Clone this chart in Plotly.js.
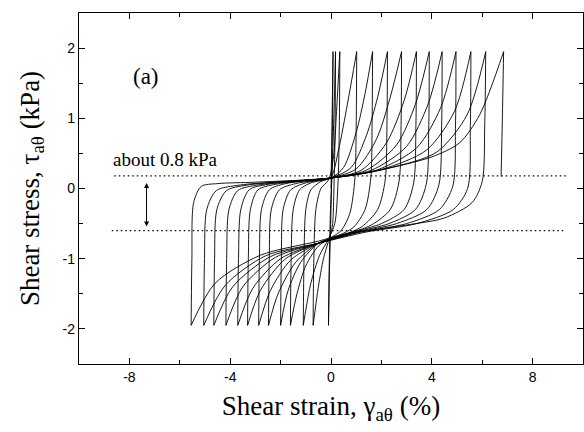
<!DOCTYPE html>
<html>
<head>
<meta charset="utf-8">
<script src="https://cdn.plot.ly/plotly-3.0.1.min.js"></script>
<style>html,body{margin:0;padding:0;background:#fff;}#chart{width:584px;height:432px;}</style>
</head>
<body>
<div id="chart"></div>
<script>
// Loading branches (trough -> peak), shear strain (%) and shear stress (kPa)
const loadingStrain = [
  [0, 0.03, 0.06, 0.08],
  [-0.1, -0.07, -0.02, 0.05, 0.12, 0.18],
  [-0.71, -0.68, -0.6, -0.4, -0.1, 0.1, 0.22, 0.35],
  [-1.1, -1.07, -1.0, -0.8, -0.4, 0.0, 0.3, 0.65, 1.02],
  [-1.61, -1.58, -1.5, -1.25, -0.8, 0.0, 0.5, 1.0, 1.35, 1.65],
  [-2.0, -1.97, -1.9, -1.6, -1.0, 0.0, 0.8, 1.4, 1.85, 2.24],
  [-2.48, -2.45, -2.37, -2.05, -1.4, 0.0, 1.0, 1.8, 2.35, 2.8],
  [-2.87, -2.84, -2.76, -2.45, -1.8, 0.0, 1.2, 2.2, 2.9, 3.39],
  [-3.31, -3.28, -3.2, -2.9, -2.2, 0.0, 1.4, 2.6, 3.35, 3.9],
  [-3.7, -3.67, -3.58, -3.25, -2.5, 0.0, 1.6, 3.0, 3.85, 4.41],
  [-4.17, -4.14, -4.05, -3.7, -2.9, 0.0, 1.8, 3.4, 4.35, 4.96],
  [-4.65, -4.62, -4.53, -4.15, -3.3, 0.0, 2.0, 3.8, 4.9, 5.55],
  [-5.05, -5.02, -4.93, -4.55, -3.6, 0.0, 2.2, 4.2, 5.4, 6.14],
  [-5.55, -5.52, -5.45, -5.15, -4.5, -3.0, 0.0, 2.0, 4.0, 5.1, 5.9, 6.85]
];
const loadingStress = [
  [0, 0.7, 1.4, 1.95],
  [-1.95, -1.1, -0.3, 0.3, 1.1, 1.95],
  [-1.95, -1.0, -0.3, 0.0, 0.12, 0.45, 1.1, 1.95],
  [-1.95, -1.0, -0.3, -0.02, 0.1, 0.16, 0.55, 1.2, 1.95],
  [-1.95, -1.0, -0.3, -0.02, 0.08, 0.15, 0.3, 0.8, 1.35, 1.95],
  [-1.95, -1.0, -0.3, -0.02, 0.08, 0.15, 0.3, 0.75, 1.3, 1.95],
  [-1.95, -1.0, -0.3, -0.02, 0.07, 0.15, 0.28, 0.7, 1.3, 1.95],
  [-1.95, -1.0, -0.3, -0.02, 0.07, 0.15, 0.26, 0.65, 1.25, 1.95],
  [-1.95, -1.0, -0.3, -0.02, 0.06, 0.15, 0.26, 0.62, 1.2, 1.95],
  [-1.95, -1.0, -0.3, -0.02, 0.06, 0.15, 0.26, 0.6, 1.2, 1.95],
  [-1.95, -1.0, -0.3, -0.03, 0.05, 0.15, 0.26, 0.58, 1.15, 1.95],
  [-1.95, -1.0, -0.3, -0.03, 0.05, 0.15, 0.27, 0.55, 1.1, 1.95],
  [-1.95, -1.0, -0.3, -0.03, 0.05, 0.15, 0.28, 0.52, 1.05, 1.95],
  [-1.95, -1.0, -0.2, 0.03, 0.07, 0.09, 0.15, 0.27, 0.45, 0.65, 1.05, 1.95]
];
// Unloading branches (peak -> trough)
const unloadingStrain = [
  [0.08, 0.06, 0.03, -0.02, -0.07, -0.1],
  [0.18, 0.16, 0.12, 0.05, -0.1, -0.3, -0.5, -0.71],
  [0.35, 0.33, 0.28, 0.15, -0.1, -0.45, -0.8, -1.1],
  [1.02, 1.0, 0.95, 0.75, 0.4, 0.0, -0.5, -1.0, -1.35, -1.61],
  [1.65, 1.63, 1.58, 1.35, 0.9, 0.3, -0.5, -1.2, -1.7, -2.0],
  [2.24, 2.22, 2.15, 1.85, 1.2, 0.4, -0.5, -1.4, -2.1, -2.48],
  [2.8, 2.78, 2.7, 2.35, 1.6, 0.6, -0.5, -1.6, -2.4, -2.87],
  [3.39, 3.37, 3.28, 2.9, 2.0, 0.8, -0.5, -1.8, -2.8, -3.31],
  [3.9, 3.88, 3.78, 3.35, 2.3, 1.0, -0.5, -2.0, -3.1, -3.7],
  [4.41, 4.39, 4.28, 3.8, 2.6, 1.1, -0.5, -2.2, -3.5, -4.17],
  [4.96, 4.94, 4.83, 4.3, 3.0, 1.2, -0.5, -2.4, -3.9, -4.65],
  [5.55, 5.53, 5.42, 4.85, 3.4, 1.4, -0.5, -2.6, -4.2, -5.05],
  [6.14, 6.1, 6.0, 5.6, 4.5, 3.0, 1.5, 0.5, -0.5, -2.8, -4.6, -5.55],
  [6.85, 6.8, 6.75]
];
const unloadingStress = [
  [1.95, 1.0, 0.2, -0.6, -1.3, -1.95],
  [1.95, 0.8, 0.05, -0.55, -0.75, -1.0, -1.4, -1.95],
  [1.95, 0.9, 0.1, -0.5, -0.72, -0.95, -1.35, -1.95],
  [1.95, 0.9, 0.15, -0.35, -0.6, -0.7, -0.82, -1.1, -1.5, -1.95],
  [1.95, 0.9, 0.15, -0.3, -0.55, -0.67, -0.78, -1.05, -1.45, -1.95],
  [1.95, 0.9, 0.12, -0.3, -0.55, -0.67, -0.78, -1.05, -1.5, -1.95],
  [1.95, 0.9, 0.1, -0.3, -0.52, -0.65, -0.78, -1.02, -1.45, -1.95],
  [1.95, 0.9, 0.08, -0.3, -0.5, -0.63, -0.78, -1.0, -1.45, -1.95],
  [1.95, 0.9, 0.06, -0.3, -0.5, -0.62, -0.78, -1.0, -1.42, -1.95],
  [1.95, 0.9, 0.05, -0.3, -0.5, -0.62, -0.78, -0.98, -1.4, -1.95],
  [1.95, 0.9, 0.03, -0.3, -0.5, -0.62, -0.78, -0.97, -1.4, -1.95],
  [1.95, 0.9, 0.0, -0.3, -0.5, -0.62, -0.78, -0.96, -1.38, -1.95],
  [1.95, 0.9, 0.1, -0.2, -0.42, -0.52, -0.6, -0.65, -0.75, -0.95, -1.35, -1.95],
  [1.95, 1.0, 0.17]
];
// Reference levels (dotted lines) and their extents
const refLevels = [0.18, -0.6];
const refStrainStart = [-8.6, -8.7];
const refStrainEnd = [9.4, 9.3];
// Annotation values
const arrowStrain = -7.32;
const arrowTop = 0.1;
const arrowBottom = -0.54;
const noteText = 'about 0.8 kPa';
const panelLabel = '(a)';
// Tick labels
const xTickVals = [-8, -4, 0, 4, 8];
const xTickText = ['-8', '-4', '0', '4', '8'];
const yTickVals = [-2, -1, 0, 1, 2];
const yTickText = ['-2', '-1', '0', '1', '2'];

const traces = [];
for (let i = 0; i < loadingStrain.length; i++) {
  traces.push({x: loadingStrain[i], y: loadingStress[i], mode: 'lines', type: 'scatter',
    line: {color: '#000', width: 0.9, shape: 'spline', smoothing: 0.8}, hoverinfo: 'skip'});
  traces.push({x: unloadingStrain[i], y: unloadingStress[i], mode: 'lines', type: 'scatter',
    line: {color: '#000', width: 0.9, shape: 'spline', smoothing: 0.8}, hoverinfo: 'skip'});
}
for (let k = 0; k < refLevels.length; k++) {
  traces.push({x: [refStrainStart[k], refStrainEnd[k]], y: [refLevels[k], refLevels[k]],
    mode: 'lines', type: 'scatter', line: {color: '#000', width: 1.3, dash: '1.5px,3px'}, hoverinfo: 'skip'});
}

const serif = 'Liberation Serif, Times New Roman, serif';
const sans = 'Liberation Sans, Arial, sans-serif';

const layout = {
  width: 584, height: 432,
  margin: {l: 79, r: 1, t: 13, b: 68},
  paper_bgcolor: '#fff', plot_bgcolor: '#fff',
  showlegend: false,
  xaxis: {
    range: [-10, 10], tickmode: 'array', tickvals: xTickVals, ticktext: xTickText,
    ticks: 'inside', ticklen: 6, tickwidth: 1, tickcolor: '#000',
    minor: {dtick: 2, tick0: 0, ticks: 'inside', ticklen: 4, tickcolor: '#000'},
    showline: true, linecolor: '#000', linewidth: 1.2, mirror: 'allticks',
    showgrid: false, zeroline: false,
    tickfont: {family: sans, size: 14, color: '#000'},
    title: {text: 'Shear strain, γ<sub>aθ</sub> (%)', font: {family: serif, size: 27, color: '#000'}, standoff: 12}
  },
  yaxis: {
    range: [-2.5, 2.5], tickmode: 'array', tickvals: yTickVals, ticktext: yTickText,
    ticks: 'inside', ticklen: 6, tickwidth: 1, tickcolor: '#000',
    minor: {dtick: 0.5, tick0: 0, ticks: 'inside', ticklen: 4, tickcolor: '#000'},
    showline: true, linecolor: '#000', linewidth: 1.2, mirror: 'allticks',
    showgrid: false, zeroline: false,
    tickfont: {family: sans, size: 14, color: '#000'},
    title: {text: 'Shear stress, τ<sub>aθ</sub> (kPa)', font: {family: serif, size: 27, color: '#000'}, standoff: 15}
  },
  annotations: [
    {x: arrowStrain, y: arrowBottom, ax: arrowStrain, ay: arrowTop, xref: 'x', yref: 'y', axref: 'x', ayref: 'y',
     text: '', showarrow: true, arrowhead: 2, arrowside: 'end+start', arrowsize: 1, arrowwidth: 1, arrowcolor: '#000'},
    {x: -6.55, y: 0.41, xref: 'x', yref: 'y', text: noteText, showarrow: false,
     font: {family: serif, size: 19, color: '#000'}},
    {x: -7.36, y: 1.6, xref: 'x', yref: 'y', text: panelLabel, showarrow: false,
     font: {family: serif, size: 23, color: '#000'}}
  ]
};

Plotly.newPlot('chart', traces, layout, {displayModeBar: false, staticPlot: true});
</script>
</body>
</html>
